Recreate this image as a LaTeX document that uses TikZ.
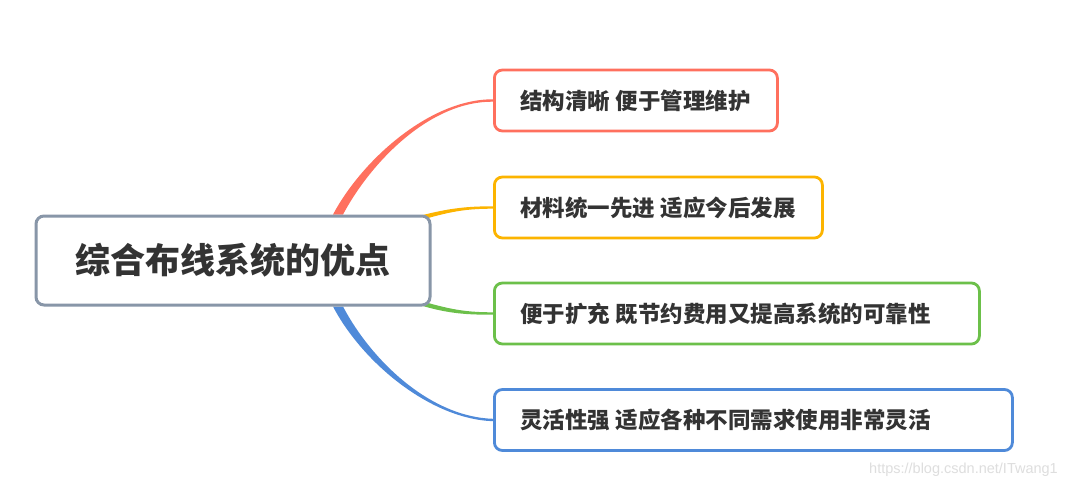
\documentclass[tikz,border=0pt]{standalone}
\usepackage{fontspec}
\newfontfamily\cjk{Noto Sans CJK SC}
\newfontfamily\wm{Liberation Sans}
\usetikzlibrary{calc}
\definecolor{cred}{RGB}{255,112,94}
\definecolor{corange}{RGB}{252,180,0}
\definecolor{cgreen}{RGB}{108,192,74}
\definecolor{cblue}{RGB}{79,138,217}
\definecolor{cgray}{RGB}{136,150,168}
\definecolor{ctext}{RGB}{51,51,51}
\newcommand{\leaftxt}[2]{\makebox[#1][l]{#2}}
\tikzset{
  rootbox/.style={draw=cgray, line width=3pt, rounded corners=8pt, fill=white,
    minimum width=394pt, minimum height=89pt, inner sep=0pt,
    font=\cjk\bfseries\fontsize{35}{40}\selectfont, text=ctext},
  leafbox/.style={draw=#1, line width=2.8pt, rounded corners=8pt, fill=white,
    minimum height=61pt, inner xsep=26pt, inner ysep=0pt, anchor=west,
    font=\cjk\bfseries\fontsize{22.5}{26}\selectfont, text=ctext},
}
\begin{document}
\begin{tikzpicture}[x=1pt,y=-1pt]
\useasboundingbox (0,0) rectangle (1066,492);
\fill[white] (0,0) rectangle (1066,492);
% leaves
\node[leafbox=cred] (l1) at (493,100.5) {\leaftxt{231pt}{结构清晰 便于管理维护}};
\node[leafbox=corange] (l2) at (493,207.5) {\leaftxt{276pt}{材料统一先进 适应今后发展}};
\node[leafbox=cgreen] (l3) at (493,313.5) {\leaftxt{433pt}{便于扩充 既节约费用又提高系统的可靠性}};
\node[leafbox=cblue] (l4) at (493,420) {\leaftxt{466pt}{灵活性强 适应各种不同需求使用非常灵活}};
% tapered connectors (behind root)
\path (233,260.5) coordinate (rc);
\fill[cred] ($(rc)+(100,-46)$) .. controls (362,160) and (430,99) .. ($(l1.west)+(0,-1.2)$)
   -- ($(l1.west)+(0,1.2)$) .. controls (430,101) and (371,162) .. ($(rc)+(110,-46)$) -- cycle;
\fill[cblue] ($(rc)+(100,46)$) .. controls (362,362) and (430,419) .. ($(l4.west)+(0,1.2)$)
   -- ($(l4.west)+(0,-1.2)$) .. controls (430,417) and (371,360) .. ($(rc)+(110,46)$) -- cycle;
\fill[corange] ($(rc)+(188,-45)$) .. controls (450,208) and (468,206.3) .. ($(l2.west)+(0,-1.2)$)
   -- ($(l2.west)+(0,1.2)$) .. controls (468,208.7) and (452,211) .. ($(rc)+(190,-41)$) -- cycle;
\fill[cgreen] ($(rc)+(188,45)$) .. controls (450,314) and (468,314.7) .. ($(l3.west)+(0,1.2)$)
   -- ($(l3.west)+(0,-1.2)$) .. controls (468,312.3) and (452,310) .. ($(rc)+(190,41)$) -- cycle;
% root
\node[rootbox] (root) at (rc) {综合布线系统的优点};
% watermark
\node[font=\wm\fontsize{14.5}{17}\selectfont, text={rgb,255:red,222;green,222;blue,222}, anchor=east, inner sep=0pt] (wmk) at (1058,470) {https://blog.csdn.net/ITwang1};
\end{tikzpicture}
\end{document}
